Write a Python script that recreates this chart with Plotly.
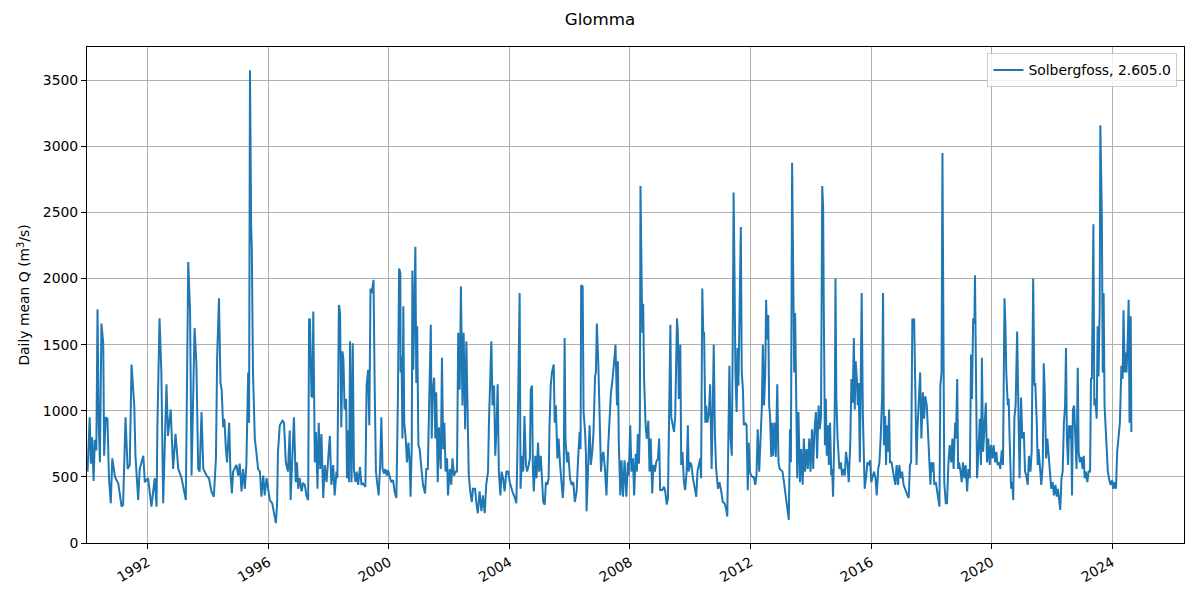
from datetime import datetime, timedelta
import plotly.graph_objects as go

# daily mean discharge at Solbergfoss (Glomma)
# time as decimal year, flow in m3/s
t_1990s = [1990.00, 1990.07, 1990.11, 1990.15, 1990.20, 1990.24, 1990.29, 1990.33, 1990.37, 1990.41,
           1990.46, 1990.52, 1990.55, 1990.60, 1990.66, 1990.71, 1990.77, 1990.82, 1990.91, 1991.02,
           1991.13, 1991.18, 1991.26, 1991.33, 1991.40, 1991.46, 1991.55, 1991.59, 1991.68, 1991.73,
           1991.85, 1991.90, 1992.01, 1992.12, 1992.23, 1992.29, 1992.32, 1992.39, 1992.45, 1992.51,
           1992.62, 1992.67, 1992.76, 1992.84, 1992.92, 1993.01, 1993.12, 1993.26, 1993.34, 1993.40,
           1993.45, 1993.50, 1993.55, 1993.61, 1993.67, 1993.72, 1993.78, 1993.84, 1993.89, 1993.95,
           1994.03, 1994.11, 1994.19, 1994.26, 1994.30, 1994.36, 1994.41, 1994.45, 1994.50, 1994.54,
           1994.59, 1994.63, 1994.70, 1994.74, 1994.79, 1994.83, 1994.94, 1995.00, 1995.05, 1995.11,
           1995.16, 1995.22, 1995.27, 1995.33, 1995.36, 1995.39, 1995.43, 1995.45, 1995.49, 1995.55,
           1995.60, 1995.66, 1995.72, 1995.77, 1995.83, 1995.88, 1995.94, 1995.99, 1996.05, 1996.13,
           1996.21, 1996.25, 1996.29, 1996.32, 1996.38, 1996.47, 1996.52, 1996.58, 1996.65, 1996.71,
           1996.74, 1996.80, 1996.85, 1996.91, 1996.95, 1996.99, 1997.04, 1997.10, 1997.15, 1997.21,
           1997.26, 1997.32, 1997.35, 1997.38, 1997.43, 1997.46, 1997.49, 1997.54, 1997.58, 1997.63,
           1997.67, 1997.72, 1997.76, 1997.82, 1997.87, 1997.93, 1997.98, 1998.04, 1998.09, 1998.15,
           1998.20, 1998.26, 1998.29, 1998.34, 1998.38, 1998.42, 1998.46, 1998.49, 1998.53, 1998.58,
           1998.61, 1998.64, 1998.68, 1998.71, 1998.76, 1998.80, 1998.84, 1998.89, 1998.93, 1998.98,
           1999.04, 1999.09, 1999.14, 1999.22, 1999.26, 1999.31, 1999.35, 1999.39, 1999.43, 1999.49,
           1999.53, 1999.57, 1999.62, 1999.66, 1999.71, 1999.75, 1999.79, 1999.84, 1999.88, 1999.93,
           1999.97]
q_1990s = [540, 950, 600, 800, 470, 780, 700, 1767, 900, 610,
           1660, 1510, 660, 950, 940, 490, 300, 640, 500, 450,
           275, 290, 950, 560, 590, 1350, 1040, 660, 325, 560,
           660, 460, 490, 275, 490, 275, 900, 1700, 1290, 300,
           1200, 810, 1010, 560, 825, 560, 490, 325, 2125, 1760,
           510, 1040, 1625, 1360, 560, 540, 990, 560, 540, 510,
           490, 390, 350, 640, 1410, 1850, 1210, 1160, 875, 940,
           710, 610, 910, 540, 375, 540, 590, 510, 600, 390,
           560, 410, 590, 1290, 910, 3575, 2390, 2240, 1290, 790,
           690, 560, 540, 350, 510, 360, 490, 410, 325, 300,
           200, 150, 290, 690, 890, 925, 910, 610, 540, 850,
           325, 660, 950, 460, 610, 410, 490, 390, 450, 440,
           360, 325, 1690, 1690, 1110, 1100, 1750, 610, 840, 410,
           910, 560, 825, 340, 590, 460, 610, 810, 440, 590,
           360, 540, 490, 1800, 1740, 875, 1450, 1390, 1010, 1090,
           490, 850, 460, 1525, 460, 1510, 550, 460, 540, 440,
           575, 440, 450, 425, 1190, 1310, 890, 1925, 1890, 1990,
           1160, 540, 440, 360, 590, 950, 560, 525, 560, 510,
           550]

t_2000s = [2000.03, 2000.08, 2000.14, 2000.19, 2000.25, 2000.30, 2000.34, 2000.38, 2000.39, 2000.42,
           2000.45, 2000.48, 2000.51, 2000.56, 2000.60, 2000.65, 2000.69, 2000.72, 2000.76, 2000.78,
           2000.81, 2000.85, 2000.88, 2000.91, 2000.94, 2000.98, 2001.02, 2001.08, 2001.13, 2001.20,
           2001.24, 2001.29, 2001.33, 2001.36, 2001.39, 2001.42, 2001.45, 2001.50, 2001.54, 2001.57,
           2001.62, 2001.66, 2001.72, 2001.76, 2001.80, 2001.84, 2001.88, 2001.93, 2001.96, 2002.02,
           2002.07, 2002.11, 2002.16, 2002.22, 2002.26, 2002.30, 2002.35, 2002.39, 2002.44, 2002.48,
           2002.53, 2002.57, 2002.61, 2002.65, 2002.70, 2002.75, 2002.79, 2002.86, 2002.90, 2002.95,
           2003.01, 2003.07, 2003.12, 2003.18, 2003.23, 2003.29, 2003.32, 2003.37, 2003.40, 2003.44,
           2003.49, 2003.53, 2003.57, 2003.61, 2003.65, 2003.70, 2003.74, 2003.79, 2003.84, 2003.90,
           2003.96, 2004.01, 2004.06, 2004.12, 2004.17, 2004.23, 2004.26, 2004.31, 2004.34, 2004.37,
           2004.42, 2004.46, 2004.50, 2004.55, 2004.59, 2004.64, 2004.68, 2004.71, 2004.75, 2004.78,
           2004.81, 2004.86, 2004.90, 2004.95, 2004.99, 2005.04, 2005.08, 2005.12, 2005.17, 2005.21,
           2005.26, 2005.30, 2005.33, 2005.37, 2005.41, 2005.47, 2005.50, 2005.54, 2005.59, 2005.63,
           2005.68, 2005.72, 2005.77, 2005.80, 2005.83, 2005.86, 2005.91, 2005.95, 2006.01, 2006.06,
           2006.12, 2006.17, 2006.23, 2006.28, 2006.33, 2006.36, 2006.38, 2006.43, 2006.46, 2006.51,
           2006.54, 2006.56, 2006.62, 2006.66, 2006.70, 2006.75, 2006.79, 2006.84, 2006.87, 2006.90,
           2006.95, 2006.99, 2007.04, 2007.08, 2007.12, 2007.17, 2007.22, 2007.28, 2007.32, 2007.37,
           2007.41, 2007.46, 2007.50, 2007.52, 2007.57, 2007.60, 2007.63, 2007.68, 2007.72, 2007.77,
           2007.82, 2007.88, 2007.93, 2007.96, 2008.01, 2008.05, 2008.10, 2008.14, 2008.19, 2008.23,
           2008.26, 2008.30, 2008.33, 2008.35, 2008.38, 2008.41, 2008.44, 2008.47, 2008.52, 2008.56,
           2008.61, 2008.65, 2008.69, 2008.74, 2008.78, 2008.83, 2008.87, 2008.93, 2008.97, 2009.00,
           2009.07, 2009.13, 2009.17, 2009.22, 2009.26, 2009.29, 2009.34, 2009.37, 2009.41, 2009.46,
           2009.50, 2009.56, 2009.59, 2009.62, 2009.67, 2009.70, 2009.74, 2009.79, 2009.83, 2009.88,
           2009.92, 2009.95]
q_2000s = [510, 460, 475, 390, 340, 1090, 2075, 2040, 1290, 1410,
           790, 1790, 910, 790, 610, 760, 610, 350, 740, 2060,
           1310, 2090, 2240, 1210, 1640, 740, 710, 560, 440, 375,
           560, 560, 1110, 1540, 1650, 790, 1140, 1250, 790, 1140,
           460, 875, 560, 1400, 710, 910, 540, 640, 360, 560,
           440, 640, 510, 540, 540, 1590, 1160, 1940, 1040, 1590,
           860, 1525, 790, 510, 390, 310, 410, 410, 310, 225,
           390, 240, 360, 225, 440, 540, 910, 1240, 1525, 1040,
           1190, 660, 860, 1200, 540, 360, 540, 490, 390, 540,
           540, 460, 410, 375, 350, 300, 610, 1290, 1890, 410,
           660, 540, 960, 590, 540, 590, 640, 1160, 1190, 560,
           390, 660, 490, 760, 540, 660, 460, 310, 290, 460,
           440, 490, 890, 1190, 1290, 1350, 910, 1040, 640, 790,
           590, 440, 340, 460, 1550, 790, 610, 690, 490, 440,
           460, 310, 390, 640, 840, 710, 1950, 1940, 990, 840,
           660, 240, 640, 890, 590, 690, 840, 1260, 1290, 1660,
           1350, 890, 540, 660, 690, 560, 360, 740, 940, 1140,
           1210, 1310, 1440, 1500, 1040, 1375, 760, 360, 625, 350,
           625, 350, 610, 510, 890, 540, 640, 360, 675, 540,
           825, 600, 910, 2700, 2290, 1590, 1810, 1240, 890, 790,
           925, 540, 790, 375, 590, 540, 610, 640, 790, 400,
           400, 425, 390, 290, 340, 1040, 1650, 950, 890, 840,
           960, 1700, 1590, 1090, 1500, 590, 690, 460, 400, 540,
           890, 540]

t_2010s = [2010.00, 2010.04, 2010.09, 2010.14, 2010.20, 2010.24, 2010.29, 2010.33, 2010.36, 2010.40,
           2010.43, 2010.46, 2010.50, 2010.53, 2010.57, 2010.62, 2010.66, 2010.71, 2010.75, 2010.78,
           2010.82, 2010.86, 2010.92, 2010.97, 2011.03, 2011.08, 2011.14, 2011.19, 2011.23, 2011.27,
           2011.30, 2011.34, 2011.38, 2011.41, 2011.44, 2011.47, 2011.50, 2011.54, 2011.57, 2011.60,
           2011.65, 2011.68, 2011.71, 2011.75, 2011.78, 2011.82, 2011.87, 2011.91, 2011.94, 2011.98,
           2012.02, 2012.07, 2012.11, 2012.16, 2012.20, 2012.24, 2012.29, 2012.33, 2012.38, 2012.41,
           2012.45, 2012.49, 2012.52, 2012.55, 2012.59, 2012.62, 2012.65, 2012.69, 2012.72, 2012.75,
           2012.80, 2012.84, 2012.89, 2012.93, 2012.97, 2013.02, 2013.06, 2013.11, 2013.15, 2013.19,
           2013.24, 2013.27, 2013.31, 2013.34, 2013.38, 2013.42, 2013.45, 2013.48, 2013.52, 2013.55,
           2013.59, 2013.64, 2013.68, 2013.73, 2013.77, 2013.81, 2013.86, 2013.90, 2013.95, 2013.99,
           2014.04, 2014.08, 2014.12, 2014.17, 2014.21, 2014.26, 2014.30, 2014.34, 2014.38, 2014.41,
           2014.43, 2014.47, 2014.50, 2014.53, 2014.57, 2014.60, 2014.64, 2014.68, 2014.71, 2014.74,
           2014.78, 2014.80, 2014.82, 2014.85, 2014.89, 2014.92, 2014.95, 2015.00, 2015.04, 2015.09,
           2015.13, 2015.17, 2015.22, 2015.26, 2015.31, 2015.35, 2015.39, 2015.43, 2015.46, 2015.49,
           2015.53, 2015.56, 2015.59, 2015.63, 2015.66, 2015.69, 2015.73, 2015.76, 2015.79, 2015.84,
           2015.88, 2015.93, 2015.97, 2016.01, 2016.06, 2016.10, 2016.15, 2016.19, 2016.24, 2016.28,
           2016.32, 2016.37, 2016.40, 2016.43, 2016.47, 2016.50, 2016.53, 2016.57, 2016.60, 2016.63,
           2016.68, 2016.72, 2016.77, 2016.81, 2016.85, 2016.90, 2016.94, 2016.99, 2017.03, 2017.08,
           2017.12, 2017.16, 2017.21, 2017.25, 2017.29, 2017.33, 2017.37, 2017.43, 2017.47, 2017.51,
           2017.54, 2017.58, 2017.63, 2017.67, 2017.72, 2017.76, 2017.80, 2017.85, 2017.89, 2017.94,
           2017.97, 2018.00, 2018.04, 2018.07, 2018.10, 2018.15, 2018.19, 2018.24, 2018.27, 2018.30,
           2018.34, 2018.37, 2018.40, 2018.43, 2018.48, 2018.52, 2018.57, 2018.61, 2018.66, 2018.70,
           2018.74, 2018.79, 2018.82, 2018.86, 2018.89, 2018.92, 2018.97, 2019.01, 2019.05, 2019.10,
           2019.14, 2019.19, 2019.23, 2019.28, 2019.32, 2019.35, 2019.39, 2019.43, 2019.45, 2019.49,
           2019.52, 2019.56, 2019.61, 2019.65, 2019.68, 2019.72, 2019.76, 2019.81, 2019.85, 2019.89,
           2019.94, 2019.98]
q_2010s = [610, 590, 490, 410, 350, 540, 590, 640, 490, 1925,
           1600, 1590, 910, 1040, 910, 990, 1200, 560, 1060, 1500,
           810, 560, 410, 460, 390, 310, 300, 260, 200, 790,
           1340, 790, 660, 1500, 2650, 2040, 1290, 990, 1475, 1190,
           1900, 2390, 1290, 1160, 890, 910, 890, 400, 760, 540,
           510, 500, 500, 440, 510, 860, 540, 810, 1040, 1500,
           1040, 1290, 1840, 1540, 1725, 1040, 960, 650, 910, 660,
           910, 650, 1200, 610, 560, 550, 540, 460, 390, 310,
           240, 175, 860, 610, 2875, 2190, 1290, 1740, 960, 490,
           990, 460, 710, 440, 790, 540, 710, 560, 790, 540,
           860, 560, 840, 990, 640, 1040, 860, 960, 2700, 2540,
           1840, 740, 1090, 660, 890, 590, 910, 510, 560, 350,
           790, 1090, 2000, 1090, 790, 690, 560, 610, 510, 560,
           510, 690, 600, 460, 740, 1240, 1060, 1550, 1010, 1375,
           1240, 1040, 1210, 610, 1500, 1890, 960, 710, 410, 510,
           610, 590, 625, 460, 510, 540, 490, 360, 560, 610,
           790, 1110, 1890, 740, 960, 590, 890, 690, 1010, 610,
           610, 540, 490, 440, 590, 440, 590, 490, 540, 440,
           410, 390, 360, 340, 590, 610, 1690, 1690, 1240, 590,
           860, 1040, 1290, 790, 1140, 940, 1110, 1040, 790, 540,
           440, 610, 540, 610, 440, 460, 390, 340, 275, 1190,
           1290, 2950, 1290, 460, 300, 300, 610, 740, 610, 790,
           560, 910, 790, 1240, 560, 610, 540, 460, 610, 490,
           590, 390, 560, 490, 1425, 1090, 1700, 1660, 2025, 1160,
           490, 660, 940, 590, 1400, 690, 840, 1060, 610, 790,
           590, 740]

t_2020s = [2020.03, 2020.07, 2020.12, 2020.16, 2020.20, 2020.25, 2020.29, 2020.34, 2020.38, 2020.43,
           2020.46, 2020.49, 2020.54, 2020.57, 2020.60, 2020.65, 2020.69, 2020.72, 2020.76, 2020.80,
           2020.85, 2020.89, 2020.93, 2020.98, 2021.02, 2021.07, 2021.11, 2021.15, 2021.20, 2021.24,
           2021.29, 2021.33, 2021.38, 2021.42, 2021.45, 2021.50, 2021.53, 2021.56, 2021.61, 2021.65,
           2021.70, 2021.73, 2021.76, 2021.81, 2021.85, 2021.90, 2021.94, 2021.98, 2022.03, 2022.07,
           2022.12, 2022.16, 2022.20, 2022.25, 2022.28, 2022.32, 2022.36, 2022.40, 2022.44, 2022.47,
           2022.50, 2022.54, 2022.57, 2022.60, 2022.64, 2022.67, 2022.70, 2022.74, 2022.78, 2022.82,
           2022.86, 2022.89, 2022.93, 2022.98, 2023.02, 2023.06, 2023.09, 2023.13, 2023.18, 2023.22,
           2023.27, 2023.30, 2023.33, 2023.35, 2023.38, 2023.41, 2023.44, 2023.49, 2023.52, 2023.55,
           2023.59, 2023.61, 2023.64, 2023.66, 2023.69, 2023.72, 2023.75, 2023.79, 2023.82, 2023.86,
           2023.91, 2023.95, 2024.00, 2024.04, 2024.08, 2024.13, 2024.17, 2024.22, 2024.26, 2024.31,
           2024.35, 2024.38, 2024.42, 2024.45, 2024.48, 2024.52, 2024.55, 2024.58, 2024.62, 2024.64]
q_2020s = [640, 740, 610, 690, 590, 610, 560, 700, 590, 1850,
           1660, 1290, 1040, 1090, 790, 410, 460, 325, 950, 1040,
           1600, 1090, 490, 1100, 790, 840, 540, 510, 440, 660,
           540, 690, 2000, 1190, 1210, 910, 590, 710, 540, 440,
           610, 1360, 1190, 640, 790, 640, 590, 410, 460, 360,
           440, 350, 410, 300, 250, 490, 540, 910, 1040, 1475,
           790, 590, 890, 790, 890, 360, 1010, 1040, 790, 560,
           1325, 690, 610, 650, 560, 660, 490, 540, 460, 540,
           540, 1250, 1240, 2100, 2410, 1040, 1090, 940, 1640, 1260,
           1790, 3160, 2610, 2475, 1290, 1890, 1040, 860, 690, 540,
           475, 440, 475, 410, 460, 410, 690, 790, 910, 1340,
           1240, 1760, 1290, 1440, 1290, 1540, 1840, 910, 1715, 840]

tick_years = [1992, 1996, 2000, 2004, 2008, 2012, 2016, 2020, 2024]


def to_date(y):
    # decimal year -> datetime
    yr = int(y)
    return datetime(yr, 1, 1) + timedelta(days=(y - yr) * 365.25)


years = t_1990s + t_2000s + t_2010s + t_2020s
flow = q_1990s + q_2000s + q_2010s + q_2020s
dates = [to_date(y) for y in years]

font = "DejaVu Sans"

# the page puts an 8px body margin round the figure, so the figure is a bit smaller
W, H = 1184, 584

fig = go.Figure()
fig.add_trace(go.Scatter(
    x=dates, y=flow, mode="lines",
    line=dict(color="#1f77b4", width=2),
    name="Solbergfoss, 2.605.0"
))

fig.update_layout(
    width=W, height=H,
    margin=dict(l=79, r=7, t=39, b=44),
    paper_bgcolor="white", plot_bgcolor="white",
    font=dict(family=font, size=13.9, color="black"),
    title=dict(text="Glomma", x=(600 - 8) / W, xref="container", y=1 - 11 / H,
               yref="container", xanchor="center", yanchor="middle",
               font=dict(family=font, size=16.7, color="black")),
    showlegend=True,
    legend=dict(x=0.994, y=0.987, xanchor="right", yanchor="top",
                bgcolor="rgba(255,255,255,0.8)", bordercolor="#cccccc",
                borderwidth=1, itemwidth=30,
                font=dict(family=font, size=13.9, color="black")),
)

fig.update_xaxes(
    type="date",
    range=[datetime(1989, 12, 25), datetime(2026, 5, 22)],
    tickvals=[datetime(y, 1, 1) for y in tick_years],
    ticktext=[str(y) for y in tick_years],
    tickangle=-30,
    tickfont=dict(family=font, size=13.9, color="black"),
    showgrid=True, gridcolor="#b0b0b0", gridwidth=1,
    showline=True, linecolor="black", linewidth=1, mirror=True,
    ticks="outside", ticklen=5, tickcolor="black",
    zeroline=False,
)
fig.update_yaxes(
    range=[0, 3751],
    tickvals=[0, 500, 1000, 1500, 2000, 2500, 3000, 3500],
    tickfont=dict(family=font, size=13.9, color="black"),
    title=dict(text="Daily mean Q (m<sup>3</sup>/s)", standoff=9,
               font=dict(family=font, size=13.9, color="black")),
    showgrid=True, gridcolor="#b0b0b0", gridwidth=1,
    showline=True, linecolor="black", linewidth=1, mirror=True,
    ticks="outside", ticklen=5, tickcolor="black",
    zeroline=False,
)

fig.write_html("out.html")
